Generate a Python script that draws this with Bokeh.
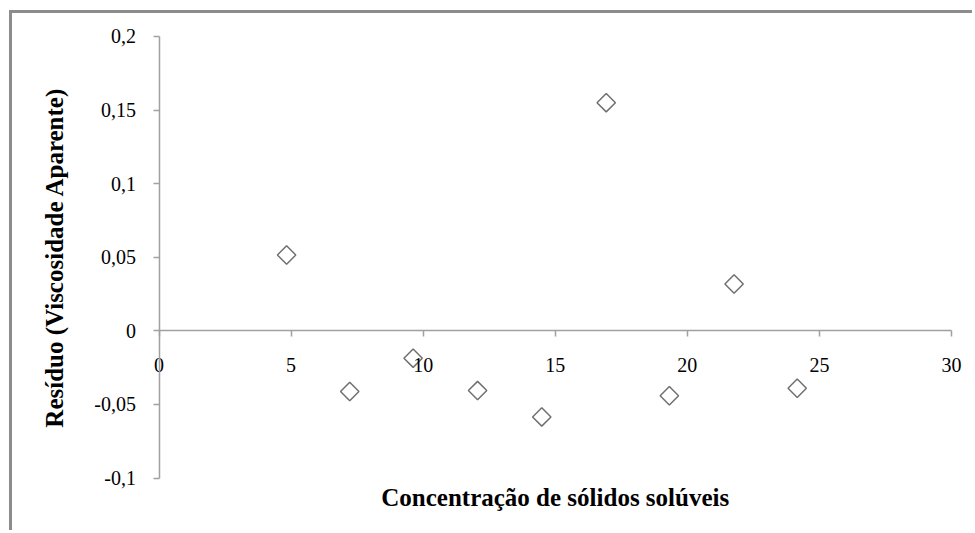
import numpy as np
from bokeh.plotting import figure
from bokeh.models import Range1d, FixedTicker, CustomJSTickFormatter, Label
from bokeh.embed import file_html
from bokeh.resources import INLINE

# Data
concentracao = [4.83, 7.22, 9.62, 12.06, 14.49, 16.93, 19.32, 21.77, 24.16]
residuo = [0.0515, -0.0412, -0.0186, -0.0406, -0.0585, 0.155, -0.0441, 0.0318, -0.0390]
x_ticks = [0, 5, 10, 15, 20, 25, 30]
y_ticks = [-0.1, -0.05, 0, 0.05, 0.1, 0.15, 0.2]
x_label = "Concentração de sólidos solúveis"
y_label = "Resíduo (Viscosidade Aparente)"

FONT = "Liberation Serif"
AXIS_COLOR = "#a0a0a0"

# The frame covers the whole canvas; both axes are pinned at 0 and bounded
p = figure(width=963, height=520, output_backend="svg", toolbar_location=None,
           x_range=Range1d(-5.546, 30.909), y_range=Range1d(-0.1377, 0.2156),
           min_border_left=0, min_border_right=0, min_border_top=0, min_border_bottom=0)
p.styles = {"border-left": "3px solid #8c8c8c", "border-top": "3px solid #8c8c8c",
            "margin-left": "9px", "margin-top": "10px"}
p.grid.visible = False
p.outline_line_color = None
p.background_fill_color = "white"
p.border_fill_color = "white"

xa = p.xaxis[0]
xa.fixed_location = 0
xa.bounds = (x_ticks[0], x_ticks[-1])
xa.ticker = FixedTicker(ticks=x_ticks)
xa.axis_line_color = AXIS_COLOR
xa.axis_line_width = 1.5
xa.major_tick_line_color = AXIS_COLOR
xa.major_tick_line_width = 1.5
xa.major_tick_in = 0
xa.major_tick_out = 6
xa.minor_tick_line_color = None
xa.major_label_standoff = 21
xa.major_label_text_font = FONT
xa.major_label_text_font_size = "20px"
xa.major_label_text_color = "black"

ya = p.yaxis[0]
ya.fixed_location = 0
ya.bounds = (y_ticks[0], y_ticks[-1])
ya.ticker = FixedTicker(ticks=y_ticks)
ya.formatter = CustomJSTickFormatter(code="return tick.toString().replace('.', ',')")
ya.axis_line_color = AXIS_COLOR
ya.axis_line_width = 1.5
ya.major_tick_line_color = AXIS_COLOR
ya.major_tick_line_width = 1.5
ya.major_tick_in = 0
ya.major_tick_out = 6
ya.minor_tick_line_color = None
ya.major_label_standoff = 17
ya.major_label_text_font = FONT
ya.major_label_text_font_size = "20px"
ya.major_label_text_color = "black"
ya.axis_label = y_label
ya.axis_label_text_font = FONT
ya.axis_label_text_font_style = "bold"
ya.axis_label_text_font_size = "25px"
ya.axis_label_text_color = "black"
ya.axis_label_standoff = 24

# x axis title below the plot area
p.add_layout(Label(x=(x_ticks[0] + x_ticks[-1]) / 2, y=-0.1133, text=x_label,
                   text_align="center", text_baseline="middle",
                   text_font=FONT, text_font_style="bold", text_font_size="25px",
                   text_color="black"))

p.scatter(concentracao, residuo, marker="square", angle=np.pi / 4, size=13,
          fill_color="white", line_color="#707070", line_width=1.5)

open("out.html", "w").write(file_html(p, INLINE))
